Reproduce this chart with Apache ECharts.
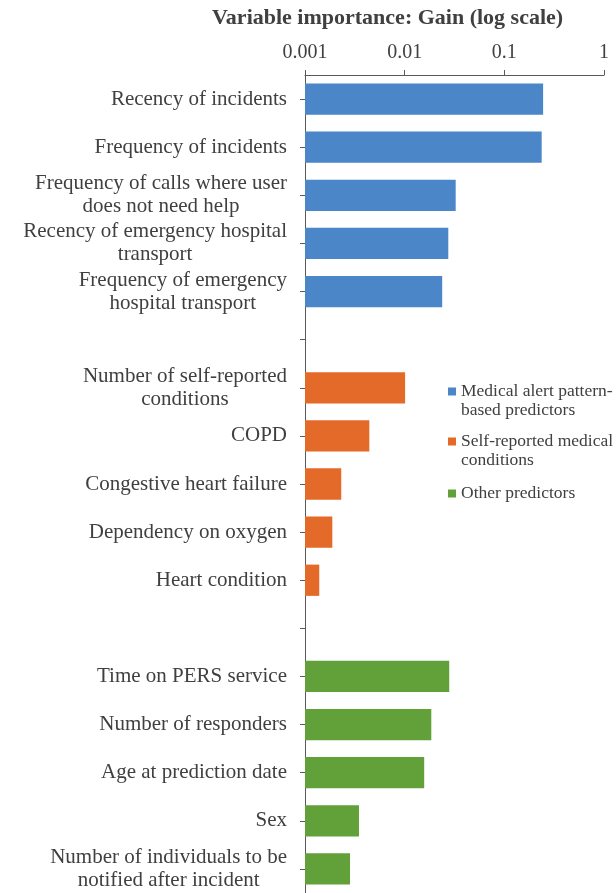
<!DOCTYPE html>
<html>
<head>
<meta charset="utf-8">
<script src="https://cdn.jsdelivr.net/npm/echarts@6/dist/echarts.min.js"></script>
<style>
  html, body { margin: 0; padding: 0; background: #ffffff; }
  #chart { width: 616px; height: 893px; }
</style>
</head>
<body>
<div id="chart"></div>
<script>
// Axis title and log-scale ticks
const titleText = 'Variable importance: Gain (log scale)';
const tickValues = [0.001, 0.01, 0.1, 1];
const tickLabels = ['0.001', '0.01', '0.1', '1'];

// Predictor groups (legend entries)
const groupNames = [
  'Medical alert pattern-\nbased predictors',
  'Self-reported medical\nconditions',
  'Other predictors'
];
const groupColors = ['#4a86c8', '#e36a28', '#62a03a'];

// Medical alert pattern-based predictors
const alertLabels = [
  'Recency of incidents',
  'Frequency of incidents',
  'Frequency of calls where user\ndoes not need help',
  'Recency of emergency hospital\ntransport',
  'Frequency of emergency\nhospital transport'
];
const alertGain = [0.245, 0.237, 0.0325, 0.0274, 0.0238];

// Self-reported medical conditions
const medicalLabels = [
  'Number of self-reported\nconditions',
  'COPD',
  'Congestive heart failure',
  'Dependency on oxygen',
  'Heart condition'
];
const medicalGain = [0.0101, 0.00442, 0.00231, 0.00188, 0.00139];

// Other predictors
const otherLabels = [
  'Time on PERS service',
  'Number of responders',
  'Age at prediction date',
  'Sex',
  'Number of individuals to be\nnotified after incident'
];
const otherGain = [0.0280, 0.0185, 0.0157, 0.00348, 0.00283];

// Build the category list with an empty row between groups
const groups = [
  [alertLabels, alertGain],
  [medicalLabels, medicalGain],
  [otherLabels, otherGain]
];
const categories = [];
const seriesData = [];
groups.forEach(([labels, gains], g) => {
  if (g > 0) categories.push('');
  const data = [];
  labels.forEach((lab, i) => {
    data.push([gains[i], categories.length]);
    categories.push(lab);
  });
  seriesData.push(data);
});

const FONT = '"Liberation Serif", "Times New Roman", serif';
const TEXT = '#404040';
const AXIS = '#595959';
const AXIS_MIN = tickValues[0];
const AXIS_MAX = tickValues[tickValues.length - 1];

// Bars start at the left edge of the log axis
function renderBar(params, api) {
  const v = api.value(0);
  const idx = api.value(1);
  const end = api.coord([v, idx]);
  const start = api.coord([AXIS_MIN, idx]);
  const h = api.size([1, 1])[1] * 0.65;
  return {
    type: 'rect',
    shape: { x: start[0], y: end[1] - h / 2, width: end[0] - start[0], height: h },
    style: api.style()
  };
}

// Legend entries: the marker sits beside the first line of a wrapped name
const legendTops = [363, 413, 484];
const legendLineHeight = 19;

const chart = echarts.init(document.getElementById('chart'), null, { renderer: 'canvas' });
chart.setOption({
  animation: false,
  color: groupColors,
  title: {
    text: titleText,
    left: 212,
    top: 7,
    padding: 0,
    textStyle: { fontFamily: FONT, fontWeight: 'bold', fontSize: 22, color: TEXT }
  },
  legend: groupNames.map((name, i) => ({
    data: [name],
    orient: 'vertical',
    left: 448,
    top: legendTops[i],
    padding: 0,
    icon: 'rect',
    itemWidth: 8,
    itemHeight: 8,
    formatter: (n) => (n.indexOf('\n') >= 0 ? '\n' + n : n),
    textStyle: { fontFamily: FONT, fontSize: 17.5, lineHeight: legendLineHeight, color: TEXT }
  })),
  grid: { left: 305, top: 75, width: 299, height: 819, containLabel: false },
  xAxis: {
    type: 'log',
    logBase: 10,
    position: 'top',
    min: AXIS_MIN,
    max: AXIS_MAX,
    axisLine: { show: true, lineStyle: { color: AXIS, width: 1 } },
    axisTick: { show: true, length: 5, lineStyle: { color: AXIS } },
    minorTick: { show: false },
    splitLine: { show: false },
    axisLabel: {
      margin: 12,
      fontFamily: FONT,
      fontSize: 20,
      color: TEXT,
      formatter: (v) => {
        const k = tickValues.findIndex(t => Math.abs(Math.log10(t) - Math.log10(v)) < 1e-6);
        return k >= 0 ? tickLabels[k] : '';
      }
    }
  },
  yAxis: {
    type: 'category',
    inverse: true,
    data: categories,
    axisLine: { show: true, lineStyle: { color: AXIS, width: 1 } },
    axisTick: { show: true, alignWithLabel: true, interval: 0, length: 5, lineStyle: { color: AXIS } },
    splitLine: { show: false },
    axisLabel: {
      interval: 0,
      margin: 18,
      fontFamily: FONT,
      fontSize: 21,
      color: TEXT,
      formatter: (v) => v ? v.split('\n').map(l => '{c|' + l + '}').join('\n') : '',
      rich: {
        c: { align: 'center', fontFamily: FONT, fontSize: 21, lineHeight: 23, color: TEXT }
      }
    }
  },
  series: groupNames.map((name, g) => ({
    type: 'custom',
    name,
    coordinateSystem: 'cartesian2d',
    encode: { x: 0, y: 1 },
    itemStyle: { color: groupColors[g] },
    renderItem: renderBar,
    data: seriesData[g]
  }))
});
</script>
</body>
</html>
